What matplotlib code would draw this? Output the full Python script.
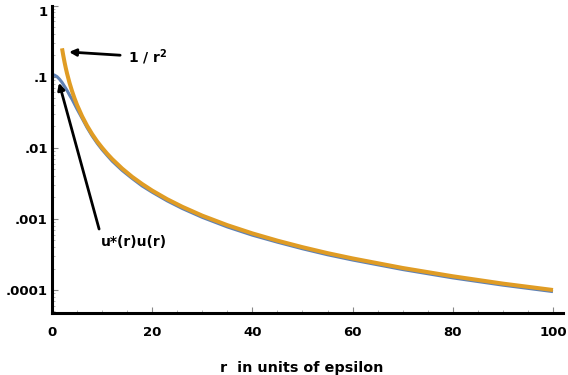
import matplotlib
matplotlib.use("Agg")
import matplotlib.pyplot as plt
from matplotlib.ticker import FixedLocator, LogLocator, NullFormatter, MultipleLocator

# Data
r_inv = [2, 2.25, 2.5, 2.75, 3, 3.5, 4, 4.5, 5, 6, 7, 8, 9, 10, 11, 12, 14, 16, 18,
         20, 23, 26, 30, 35, 40, 45, 50, 55, 60, 70, 80, 90, 100]
inv_sq = [0.25, 0.198, 0.16, 0.132, 0.111, 0.0816, 0.0625, 0.0494, 0.04, 0.0278,
          0.0204, 0.0156, 0.0123, 0.01, 0.00826, 0.00694, 0.0051, 0.0039, 0.00309,
          0.0025, 0.00189, 0.00148, 0.00111, 0.000816, 0.000625, 0.000494, 0.0004,
          0.00033, 0.000278, 0.000204, 0.000156, 0.000123, 0.0001]

r_u = [0, 0.5, 1, 1.5, 2, 2.5, 3, 3.5, 4, 4.5, 5, 6, 7, 8, 9, 10, 11, 12, 14, 16,
       18, 20, 23, 26, 30, 35, 40, 45, 50, 55, 60, 70, 80, 90, 100]
uu = [0.107, 0.105, 0.1, 0.092, 0.083, 0.073, 0.064, 0.055, 0.048, 0.041, 0.035,
      0.026, 0.0192, 0.0147, 0.0116, 0.0094, 0.0078, 0.0065, 0.0048, 0.0037, 0.0029,
      0.00237, 0.00179, 0.0014, 0.00105, 0.00077, 0.00059, 0.00047, 0.00038,
      0.000313, 0.000264, 0.000194, 0.000148, 0.000117, 0.000095]

x_ticks = [0, 20, 40, 60, 80, 100]
y_ticks = [1, 0.1, 0.01, 0.001, 0.0001]
y_labels = ["1", ".1", ".01", ".001", ".0001"]

blue = "#5E81B5"
orange = "#E09C24"

fig = plt.figure(figsize=(5.68, 3.75), dpi=100)
ax = fig.add_axes([52/568, 62/375, (563-52)/568, (313-5.5)/375])

ax.plot(r_u, uu, color=blue, lw=2.2, solid_capstyle="butt")
ax.plot(r_inv, inv_sq, color=orange, lw=2.9, solid_capstyle="butt")

ax.set_yscale("log")
ax.set_xlim(0, 102)
ax.set_ylim(4.75e-5, 1.0)

for s in ["top", "right"]:
    ax.spines[s].set_visible(False)
for s in ["left", "bottom"]:
    ax.spines[s].set_linewidth(2.2)
    ax.spines[s].set_color("black")

ax.xaxis.set_major_locator(FixedLocator(x_ticks))
ax.xaxis.set_minor_locator(MultipleLocator(5))
ax.yaxis.set_major_locator(FixedLocator(y_ticks))
ax.yaxis.set_minor_locator(LogLocator(base=10, subs=range(2, 10)))
ax.yaxis.set_minor_formatter(NullFormatter())
ax.set_xticklabels([str(v) for v in x_ticks], fontweight="bold", fontsize=9.5)
ax.set_yticklabels(y_labels, fontweight="bold", fontsize=9.5)
for lab in ax.get_yticklabels():
    if lab.get_text() == "1":
        lab.set_verticalalignment("top")

ax.tick_params(which="major", direction="in", length=4, width=0.8, color="#888888")
ax.tick_params(which="minor", direction="in", length=2.5, width=0.6, color="#aaaaaa")
ax.tick_params(axis="y", which="major", pad=3)
ax.tick_params(axis="x", which="major", pad=9)

ax.set_xlabel("r  in units of epsilon", fontweight="bold", fontsize=10.4)
ax.xaxis.set_label_coords((302 - 52) / 511, (313 - 368) / 307.5)
ax.xaxis.label.set_verticalalignment("center")

arrow = dict(arrowstyle="-|>", color="black", lw=2, mutation_scale=10,
             shrinkA=0, shrinkB=0)
# 1/r^2 label and arrow
ax.text(15.2, 0.187, r"1 / r$^{\mathbf{2}}$", fontsize=10, fontweight="bold",
        va="center", ha="left")
ax.annotate("", xy=(3.4, 0.222), xytext=(13.6, 0.2), arrowprops=arrow)
# u*(r)u(r) label and arrow
ax.text(9.8, 0.00047, "u*(r)u(r)", fontsize=10, fontweight="bold",
        va="center", ha="left")
ax.annotate("", xy=(1.4, 0.082), xytext=(9.4, 0.00072), arrowprops=arrow)

fig.savefig("out.png", dpi=100)
